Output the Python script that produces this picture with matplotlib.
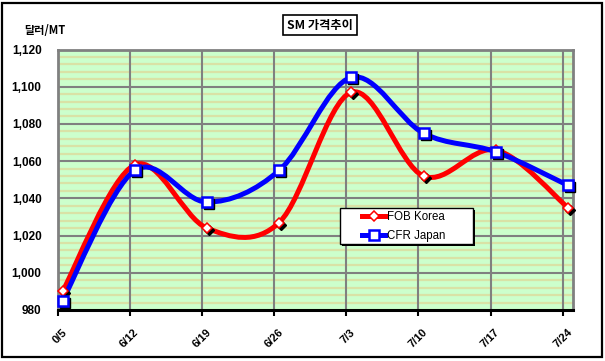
import numpy as np
import matplotlib
matplotlib.use("Agg")
import matplotlib.pyplot as plt
from matplotlib.path import Path
from matplotlib.patches import PathPatch, Rectangle
from matplotlib.transforms import offset_copy, ScaledTranslation
from matplotlib.lines import Line2D

categories = ["0/5", "6/12", "6/19", "6/26", "7/3", "7/10", "7/17", "7/24"]
fob_korea = [990, 1058, 1024, 1027, 1097, 1052, 1066, 1035]
cfr_japan = [985, 1055, 1038, 1055, 1105, 1075, 1065, 1047]
y_ticks = [980, 1000, 1020, 1040, 1060, 1080, 1100, 1120]

W, H = 605, 361
fig = plt.figure(figsize=(W / 100, H / 100), dpi=100)
fig.patch.set_facecolor("white")

def fx(px):
    return px / W

def fy(py):
    return 1 - py / H

L, R, T, B = 57.5, 573, 49.5, 310
ax = fig.add_axes([fx(L), fy(B), fx(R - L), (B - T) / H])
ax.set_facecolor("#ccffcc")

x = np.arange(len(categories))
off = 0.07
ax.set_xlim(-off, len(categories) - 1 + off)
ax.set_ylim(980, 1120)

# minor gridlines (tan)
for v in np.arange(980, 1120, 4):
    if v % 20 != 0:
        ax.axhline(v, color="#d9e2a6", lw=1.6, zorder=0.5)
for v in y_ticks[1:-1]:
    ax.axhline(v, color="#808080", lw=1.5, zorder=0.6)
for i in range(1, len(categories)):
    ax.axvline(i - off, color="#808080", lw=1.5, zorder=0.6)


def smooth_path(xs, ys):
    pts = np.column_stack([xs, ys]).astype(float)
    n = len(pts)
    verts = [pts[0]]
    codes = [Path.MOVETO]
    for i in range(n - 1):
        p0 = pts[i - 1] if i > 0 else pts[i]
        p1 = pts[i]
        p2 = pts[i + 1]
        p3 = pts[i + 2] if i + 2 < n else pts[i + 1]
        c1 = p1 + (p2 - p0) / 6.0
        c2 = p2 - (p3 - p1) / 6.0
        verts += [c1, c2, p2]
        codes += [Path.CURVE4] * 3
    return Path(verts, codes)

series = [("FOB Korea", fob_korea, "#ff0000", "D", 5.3),
          ("CFR Japan", cfr_japan, "#0000ff", "s", 7.0)]
shadow_tr = offset_copy(ax.transData, fig=fig, x=2, y=-2, units="dots")
handles = []
for k, (name, vals, col, mk, ms) in enumerate(series):
    patch = PathPatch(smooth_path(x, vals), facecolor="none", edgecolor=col,
                      lw=3.6, zorder=2 + k, capstyle="round", joinstyle="round")
    ax.add_patch(patch)
    ax.plot(x, vals, ls="none", marker=mk, ms=ms, mfc="black", mec="black",
            transform=shadow_tr, zorder=4 + k * 0.1, clip_on=False)
    ax.plot(x, vals, ls="none", marker=mk, ms=ms, mfc="white", mec=col,
            mew=1.8 if mk == "s" else 1.1, zorder=5 + k * 0.1, clip_on=False)
    handles.append(Line2D([0], [0], color=col, lw=3.6, marker=mk, ms=ms - 0.5,
                          mfc="white", mec=col, mew=1.8 if mk == "s" else 1.1))

ax.set_xticks(x - off)
ax.set_xticklabels(categories, rotation=45, ha="right", va="top",
                   rotation_mode="anchor", fontsize=8, fontweight="bold",
                   family="Liberation Sans")
ax.tick_params(axis="x", length=4, width=1.5, color="black", pad=6)
shift = ScaledTranslation(4 / 100, -3 / 100, fig.dpi_scale_trans)
for lbl in ax.get_xticklabels():
    lbl.set_transform(lbl.get_transform() + shift)

ax.set_yticks(y_ticks)
ax.set_yticklabels([f"{v:,}" for v in y_ticks], fontsize=8.5, fontweight="bold",
                   family="Liberation Sans")
ax.tick_params(axis="y", length=0, pad=11.5)

for s in ["left", "top", "right"]:
    ax.spines[s].set_color("#808080")
    ax.spines[s].set_linewidth(2)
ax.spines["bottom"].set_color("black")
ax.spines["bottom"].set_linewidth(2.2)

# legend
lx0, ly0, lx1, ly1 = 340, 208, 473, 244
ax.add_patch(Rectangle((fx(lx0 + 2), fy(ly1 + 2)), fx(lx1 - lx0), (ly1 - ly0) / H,
                       transform=fig.transFigure, facecolor="black", edgecolor="none",
                       zorder=7, clip_on=False))
ax.add_patch(Rectangle((fx(lx0), fy(ly1)), fx(lx1 - lx0), (ly1 - ly0) / H,
                       transform=fig.transFigure, facecolor="white", edgecolor="black",
                       lw=1.0, zorder=7.1, clip_on=False))
leg = ax.legend(handles, [s[0] for s in series], loc="center left",
                bbox_to_anchor=(fx(362), fy(226.7)), bbox_transform=fig.transFigure,
                frameon=False, borderpad=0, borderaxespad=0, handlelength=2.0,
                handletextpad=0.15, labelspacing=0.65,
                prop={"family": "Liberation Sans", "size": 8.3})
leg.set_zorder(8)

# title box
fig.text(fx(320), fy(25), "SM 가격추이", ha="center", va="center",
         family=["Noto Sans CJK KR", "DejaVu Sans"], fontsize=8.8, fontweight="bold",
         bbox=dict(boxstyle="square,pad=0.3", facecolor="white", edgecolor="black", lw=1.2))

# y label
fig.text(fx(24), fy(30), "달러/MT", ha="left", va="center",
         family=["Noto Sans CJK KR", "DejaVu Sans"], fontsize=8, fontweight="bold")

# outer frame
fig.add_artist(Rectangle((fx(1.5), fy(356.5)), fx(600.5), 354 / H,
                         transform=fig.transFigure, facecolor="none",
                         edgecolor="black", lw=1.6))

fig.savefig("out.png", dpi=100)
